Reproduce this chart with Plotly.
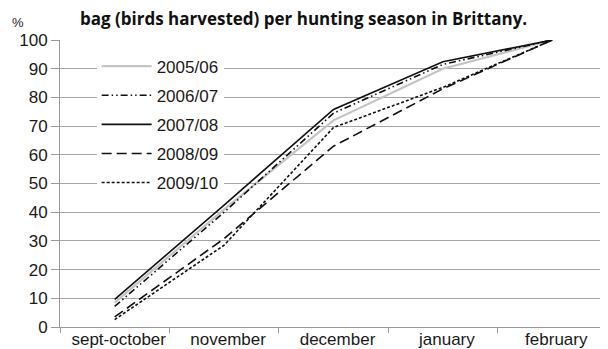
import plotly.graph_objects as go

months = ["sept-october", "november", "december", "january", "february"]
s0506 = [8.5, 41, 72, 90, 100]
s0607 = [7.2, 40, 74.5, 91.5, 100]
s0708 = [9.6, 42.5, 75.8, 92.4, 100]
s0809 = [3.5, 30.8, 63, 83, 100]
s0910 = [2.6, 28.5, 69.5, 83.5, 100]
y_ticks = [0, 10, 20, 30, 40, 50, 60, 70, 80, 90, 100]

series = [
    ("2005/06", s0506, "#c4c4c4", "solid", 2.2),
    ("2006/07", s0607, "#111111", "7px,3px,1.5px,3px,1.5px,3px", 1.6),
    ("2007/08", s0708, "#111111", "solid", 1.6),
    ("2008/09", s0809, "#111111", "10px,5px", 1.6),
    ("2009/10", s0910, "#111111", "3px,2px", 1.6),
]

fig = go.Figure()
for i, (name, vals, col, dash, w) in enumerate(series):
    fig.add_trace(go.Scatter(
        x=months, y=vals, name=name, mode="lines",
        line=dict(color=col, dash=dash, width=w),
        legendgroup=f"g{i}",
    ))

# page body has an 8px margin, so the figure is 8px smaller than the window
fig.update_layout(
    width=600, height=341,
    margin=dict(l=52, r=1, t=32, b=22),
    paper_bgcolor="white", plot_bgcolor="white",
    font=dict(family="Liberation Sans, Arial, sans-serif", size=17, color="#1a1a1a"),
    showlegend=True,
    legend=dict(
        x=0.067, y=0.97, xanchor="left", yanchor="top",
        bgcolor="white", borderwidth=0,
        font=dict(size=17, color="#1a1a1a"),
        tracegroupgap=4, traceorder="grouped",
        itemwidth=50,
    ),
    annotations=[
        dict(text="<b>bag (birds harvested) per hunting season in Brittany.</b>",
             xref="paper", yref="paper", x=0.446, y=1.0, yshift=22,
             xanchor="center", yanchor="middle", showarrow=False,
             font=dict(family="Open Sans, sans-serif", size=17, color="#111111")),
        dict(text="%", xref="paper", yref="paper", x=0, y=1, xshift=-50, yshift=8,
             xanchor="left", yanchor="bottom", showarrow=False,
             font=dict(size=13, color="#1a1a1a")),
    ],
)

fig.update_xaxes(
    type="category", range=[-0.5, 4.5],
    showgrid=False, showline=True, linecolor="#999999", linewidth=1,
    ticks="outside", ticklen=5, tickcolor="#999999", tickson="boundaries",
    tickfont=dict(size=17), zeroline=False, automargin=False,
    ticklabelstandoff=-3, ticklabelshift=4,
)
fig.update_yaxes(
    range=[0, 100], tickvals=y_ticks,
    showgrid=True, gridcolor="#a6a6a6", gridwidth=1,
    showline=True, linecolor="#999999", linewidth=1,
    ticks="outside", ticklen=8, tickcolor="#999999",
    tickfont=dict(size=17), zeroline=False, automargin=False,
)

fig.write_html("out.html")
